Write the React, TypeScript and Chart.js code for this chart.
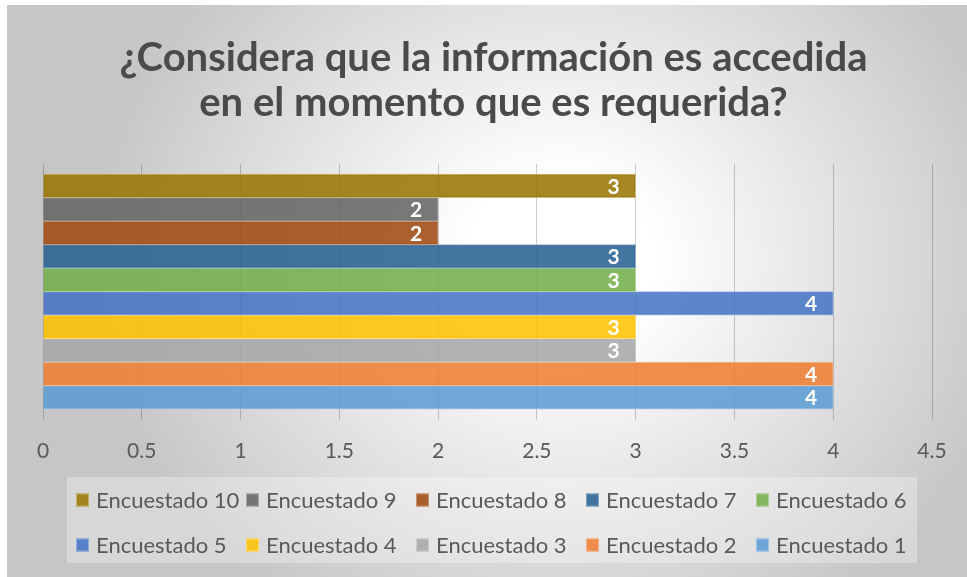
import React, { useEffect, useRef } from "react";
import { Chart, registerables } from "chart.js";

Chart.register(...registerables);

const TITLE_LINES = ["¿Considera que la información es accedida", "en el momento que es requerida?"];
const SERIES_NAMES = [
  "Encuestado 10",
  "Encuestado 9",
  "Encuestado 8",
  "Encuestado 7",
  "Encuestado 6",
  "Encuestado 5",
  "Encuestado 4",
  "Encuestado 3",
  "Encuestado 2",
  "Encuestado 1",
];
const SERIES_VALUES = [3, 2, 2, 3, 3, 4, 3, 3, 4, 4];
const SERIES_COLORS = [
  "#997300",
  "#636363",
  "#9E480E",
  "#255E91",
  "#70AD47",
  "#4472C4",
  "#FFC000",
  "#A5A5A5",
  "#ED7D31",
  "#5B9BD5",
];
const X_MIN = 0;
const X_MAX = 4.5;
const X_STEP = 0.5;
const CATEGORY_INDEX = 0;

const TEXT_COLOR = "#595959";
const TITLE_COLOR = "#4a4a4a";
const FONT = "Lato";

function hexToRgba(hex: string, a: number) {
  const n = parseInt(hex.slice(1), 16);
  return `rgba(${(n >> 16) & 255},${(n >> 8) & 255},${n & 255},${a})`;
}
function lighten(hex: string, f: number, a: number) {
  const n = parseInt(hex.slice(1), 16);
  const r = Math.round(((n >> 16) & 255) + (255 - ((n >> 16) & 255)) * f);
  const g = Math.round(((n >> 8) & 255) + (255 - ((n >> 8) & 255)) * f);
  const b = Math.round((n & 255) + (255 - (n & 255)) * f);
  return `rgba(${r},${g},${b},${a})`;
}

const barLabelPlugin = {
  id: "barLabels",
  afterDatasetsDraw(chart: any) {
    const ctx = chart.ctx;
    ctx.save();
    ctx.font = `bold 21px ${FONT}`;
    ctx.fillStyle = "#ffffff";
    ctx.textAlign = "right";
    ctx.textBaseline = "middle";
    chart.data.datasets.forEach((ds: any, i: number) => {
      const meta = chart.getDatasetMeta(i);
      meta.data.forEach((el: any, j: number) => {
        const v = ds.data[j];
        ctx.fillText(String(typeof v === "object" ? v.x : v), el.x - 16, el.y + 1);
      });
    });
    ctx.restore();
  },
};

const titleShiftPlugin = {
  id: "titleShift",
  afterLayout(chart: any) {
    const t = chart.titleBlock;
    if (t) {
      t.left += 6;
      t.right += 6;
    }
  },
};

// Excel-like legend laid out in equal columns
const LEGEND_COLS = 5;
const LEGEND_COL_W = 170;
const LEGEND_X0 = 69;
const LEGEND_ROW_Y = [495, 540];
const LEGEND_BOX = 13;

const gridLegendPlugin = {
  id: "gridLegend",
  afterDraw(chart: any) {
    const ctx = chart.ctx;
    ctx.save();
    ctx.fillStyle = "rgba(255,255,255,0.3)";
    ctx.fillRect(60, 472, 850, 86);
    ctx.font = `22px ${FONT}`;
    ctx.textBaseline = "middle";
    ctx.textAlign = "left";
    chart.data.datasets.forEach((ds: any, i: number) => {
      const col = i % LEGEND_COLS;
      const row = Math.floor(i / LEGEND_COLS);
      const bx = LEGEND_X0 + col * LEGEND_COL_W;
      const cy = LEGEND_ROW_Y[row];
      ctx.fillStyle = ds.backgroundColor;
      ctx.fillRect(bx, cy - LEGEND_BOX / 2, LEGEND_BOX, LEGEND_BOX);
      ctx.strokeStyle = ds.borderColor;
      ctx.lineWidth = 1;
      ctx.strokeRect(bx + 0.5, cy - LEGEND_BOX / 2 + 0.5, LEGEND_BOX - 1, LEGEND_BOX - 1);
      ctx.fillStyle = TEXT_COLOR;
      ctx.fillText(ds.label, bx + 20, cy + 1);
    });
    ctx.restore();
  },
};

export default function App() {
  const ref = useRef<HTMLCanvasElement | null>(null);

  useEffect(() => {
    document.body.style.margin = "0";
    if (!ref.current) return;
    const chart = new Chart(ref.current, {
      type: "bar",
      data: {
        datasets: SERIES_NAMES.map((name, i) => ({
          label: name,
          data: [{ x: SERIES_VALUES[i], y: CATEGORY_INDEX }],
          backgroundColor: hexToRgba(SERIES_COLORS[i], 0.86),
          borderColor: lighten(SERIES_COLORS[i], 0.45, 0.9),
          borderWidth: 1,
          barThickness: 23.5,
        })),
      },
      options: {
        indexAxis: "y",
        animation: false,
        responsive: false,
        maintainAspectRatio: false,
        layout: { padding: { left: 36, right: 35, top: 0, bottom: 94 } },
        scales: {
          x: {
            type: "linear",
            min: X_MIN,
            max: X_MAX,
            ticks: {
              stepSize: X_STEP,
              color: TEXT_COLOR,
              font: { family: FONT, size: 21 },
              padding: 19,
              maxRotation: 0,
              callback: (v: any) => String(v),
            },
            grid: {
              color: "rgba(0,0,0,0.2)",
              lineWidth: 1,
              tickLength: 7,
              drawTicks: true,
            },
            border: { display: false },
          },
          y: { type: "linear", display: false, min: -1, max: 1.068 },
        },
        plugins: {
          title: {
            display: true,
            text: TITLE_LINES,
            color: TITLE_COLOR,
            font: { family: FONT, size: 40, weight: "bold", lineHeight: "45px" },
            padding: { top: 31, bottom: 38 },
          },
          legend: { display: false },
          tooltip: { enabled: false },
        },
      },
      plugins: [titleShiftPlugin, barLabelPlugin, gridLegendPlugin],
    });
    return () => chart.destroy();
  }, []);

  return (
    <div
      style={{
        position: "fixed",
        left: 7,
        top: 5,
        width: 960,
        height: 572,
        background:
          "radial-gradient(ellipse 470px 420px at 553px 255px, #ffffff 0%, #ffffff 20%, #c6c6c6 100%)",
      }}
    >
      <canvas ref={ref} width={960} height={572} style={{ display: "block" }} />
    </div>
  );
}
